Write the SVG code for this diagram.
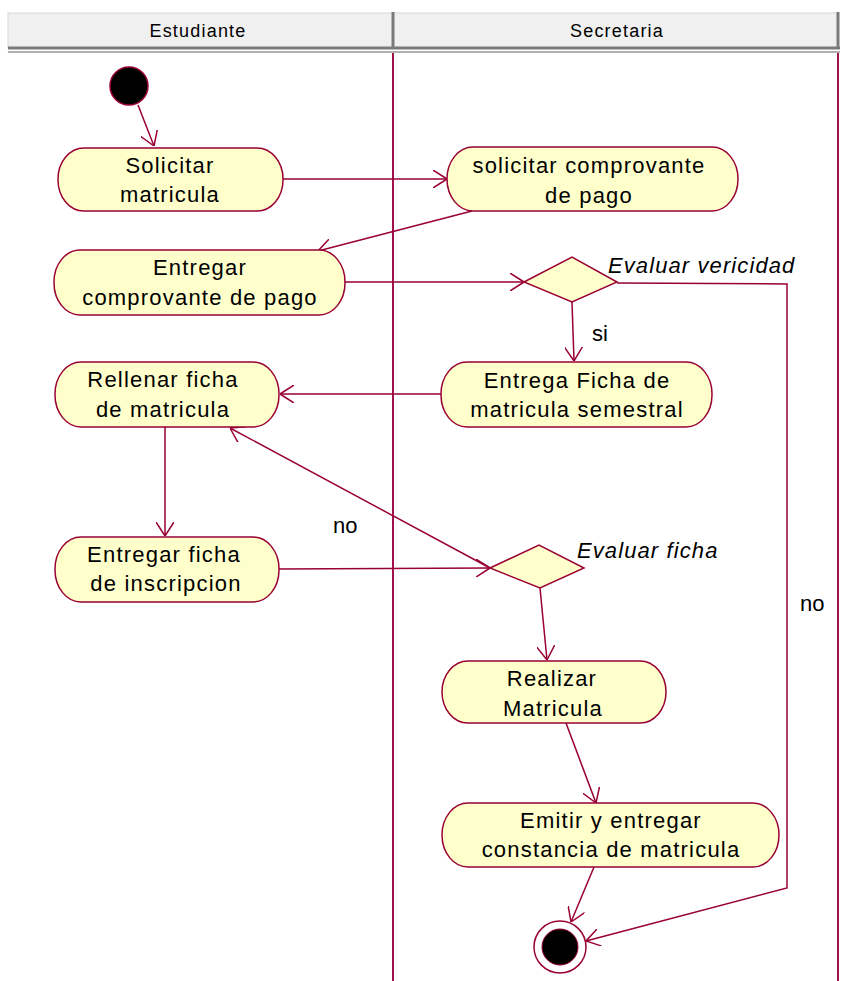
<svg xmlns="http://www.w3.org/2000/svg" width="842" height="981" viewBox="0 0 842 981">
<style>
.act{fill:#ffffcc;stroke:#990033;stroke-width:1.5}
.dec{fill:#ffffcc;stroke:#990033;stroke-width:1.5}
.lbl{font-family:"Liberation Sans",Arial,sans-serif;font-size:22px;letter-spacing:1.2px;fill:#000;text-anchor:middle}
.it{font-family:"Liberation Sans",Arial,sans-serif;font-size:22px;font-style:italic;letter-spacing:1.1px;fill:#000}
.plain{font-family:"Liberation Sans",Arial,sans-serif;font-size:22px;fill:#000}
.hdr{font-family:"Liberation Sans",Arial,sans-serif;font-size:18px;letter-spacing:1.2px;fill:#000;text-anchor:middle}
.con{fill:none;stroke:#990033;stroke-width:1.5}
.lane{stroke:#a0104a;stroke-width:2}
</style>
<defs>
<marker id="ah" viewBox="0 0 14 18" refX="14" refY="9" markerWidth="14" markerHeight="18" markerUnits="userSpaceOnUse" orient="auto">
<path d="M0,0 L14,9 L0,18" fill="none" stroke="#990033" stroke-width="1.5"/>
</marker>
</defs>
<rect x="0" y="0" width="842" height="981" fill="#ffffff"/>
<g id="swimlanes">
<rect x="8" y="13" width="830" height="35" fill="#f0f0f0" stroke="#d8d8d8" stroke-width="1"/>
<line x1="8" y1="48" x2="840" y2="48" stroke="#7a7a7a" stroke-width="3"/>
<line x1="8" y1="52" x2="840" y2="52" stroke="#b0b0b0" stroke-width="2"/>
<line x1="393" y1="12" x2="393" y2="49" stroke="#7a7a7a" stroke-width="3"/>
<line x1="838" y1="12" x2="838" y2="49" stroke="#7a7a7a" stroke-width="3"/>
<line class="lane" x1="393" y1="53" x2="393" y2="981"/>
<line class="lane" x1="838" y1="53" x2="838" y2="981"/>
<text class="hdr" x="198" y="37">Estudiante</text>
<text class="hdr" x="617" y="37">Secretaria</text>
</g>
<g id="connectors">
<line class="con" x1="138" y1="105" x2="154" y2="146" marker-end="url(#ah)"/>
<line class="con" x1="283" y1="179" x2="447" y2="179" marker-end="url(#ah)"/>
<line class="con" x1="472" y1="211" x2="318" y2="251" marker-end="url(#ah)"/>
<line class="con" x1="345" y1="282" x2="524" y2="282" marker-end="url(#ah)"/>
<line class="con" x1="572" y1="302" x2="574" y2="361" marker-end="url(#ah)"/>
<polyline class="con" points="617,283 787,284 787,888 586,941" marker-end="url(#ah)"/>
<line class="con" x1="441" y1="394" x2="280" y2="394" marker-end="url(#ah)"/>
<line class="con" x1="165" y1="427" x2="165" y2="536" marker-end="url(#ah)"/>
<line class="con" x1="279" y1="569" x2="490" y2="568" marker-end="url(#ah)"/>
<line class="con" x1="490" y1="568" x2="230" y2="428" marker-end="url(#ah)"/>
<line class="con" x1="540" y1="588" x2="547" y2="660" marker-end="url(#ah)"/>
<line class="con" x1="566" y1="723" x2="596" y2="803" marker-end="url(#ah)"/>
<line class="con" x1="594" y1="867" x2="571" y2="922" marker-end="url(#ah)"/>
<text class="plain" x="592" y="341">si</text>
<text class="plain" x="333" y="533">no</text>
<text class="plain" x="800" y="611">no</text>
</g>
<g id="start">
<circle cx="129" cy="86" r="19" fill="#000" stroke="#990033" stroke-width="1.5"/>
</g>
<g id="solicitar-matricula">
<rect class="act" x="58" y="148" width="225" height="63" rx="26" ry="31"/>
<text class="lbl" x="170" y="173">Solicitar</text>
<text class="lbl" x="170" y="202">matricula</text>
</g>
<g id="solicitar-comprovante">
<rect class="act" x="447" y="147" width="291" height="64" rx="26" ry="32"/>
<text class="lbl" x="589" y="173">solicitar comprovante</text>
<text class="lbl" x="589" y="203">de pago</text>
</g>
<g id="entregar-comprovante">
<rect class="act" x="54" y="250" width="291" height="65" rx="26" ry="32"/>
<text class="lbl" x="200" y="275">Entregar</text>
<text class="lbl" x="200" y="305">comprovante de pago</text>
</g>
<g id="evaluar-vericidad">
<polygon class="dec" points="524,282 572,257 617,282 572,302"/>
<text class="it" x="608" y="273">Evaluar vericidad</text>
</g>
<g id="entrega-ficha">
<rect class="act" x="441" y="362" width="271" height="65" rx="26" ry="32"/>
<text class="lbl" x="577" y="388">Entrega Ficha de</text>
<text class="lbl" x="577" y="417">matricula semestral</text>
</g>
<g id="rellenar-ficha">
<rect class="act" x="55" y="362" width="224" height="65" rx="26" ry="32"/>
<text class="lbl" x="163" y="387">Rellenar ficha</text>
<text class="lbl" x="163" y="417">de matricula</text>
</g>
<g id="entregar-ficha">
<rect class="act" x="55" y="537" width="224" height="65" rx="26" ry="32"/>
<text class="lbl" x="164" y="562">Entregar ficha</text>
<text class="lbl" x="166" y="591">de inscripcion</text>
</g>
<g id="evaluar-ficha">
<polygon class="dec" points="490,568 539,545 584,568 540,588"/>
<text class="it" x="577" y="558">Evaluar ficha</text>
</g>
<g id="realizar-matricula">
<rect class="act" x="442" y="661" width="224" height="62" rx="26" ry="31"/>
<text class="lbl" x="552" y="686">Realizar</text>
<text class="lbl" x="553" y="716">Matricula</text>
</g>
<g id="emitir-constancia">
<rect class="act" x="442" y="803" width="337" height="64" rx="26" ry="32"/>
<text class="lbl" x="611" y="828">Emitir y entregar</text>
<text class="lbl" x="611" y="857">constancia de matricula</text>
</g>
<g id="end">
<circle cx="560" cy="947" r="26" fill="#ffffff" stroke="#990033" stroke-width="1.5"/>
<circle cx="560" cy="947" r="18" fill="#000" stroke="#990033" stroke-width="1"/>
</g>
</svg>
